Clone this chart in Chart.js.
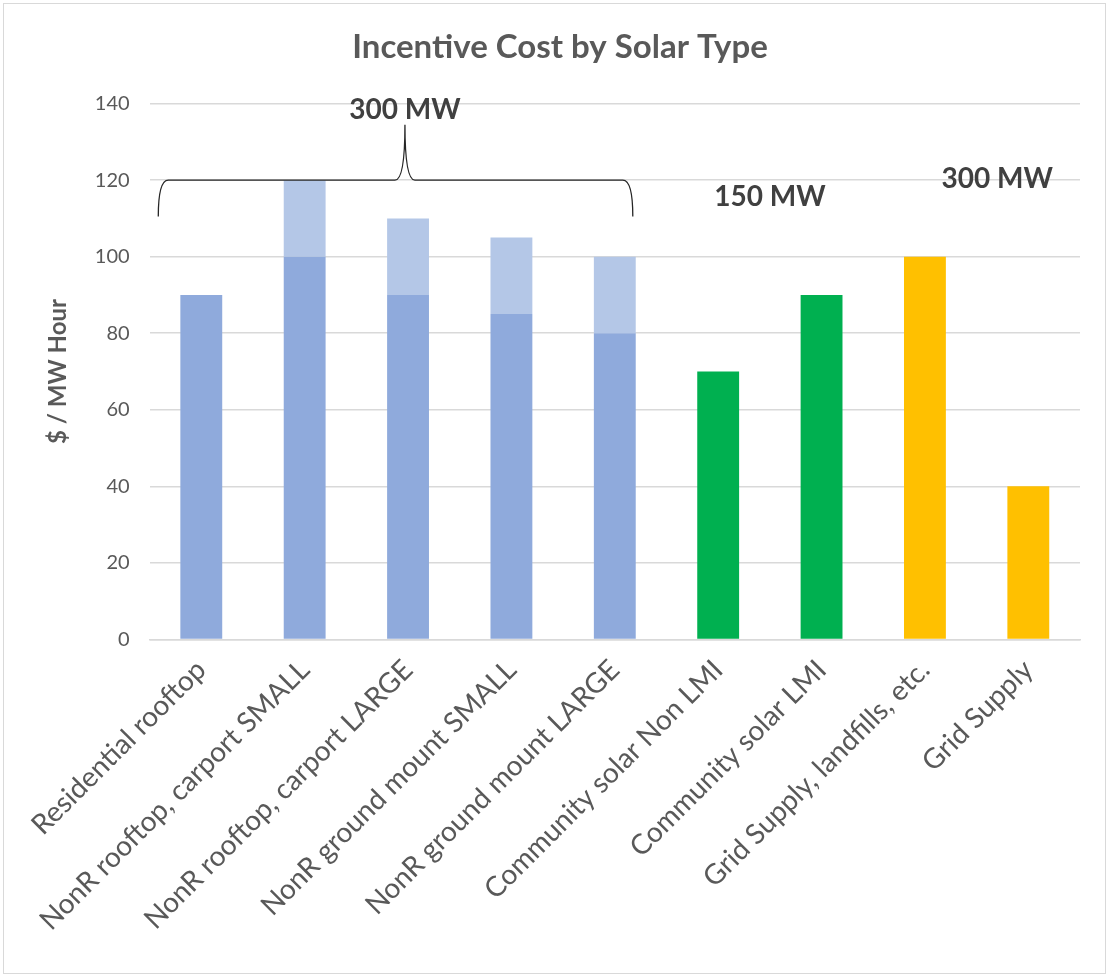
<!DOCTYPE html>
<html>
<head>
<meta charset="utf-8">
<script src="https://cdn.jsdelivr.net/npm/chart.js@4/dist/chart.umd.min.js"></script>
<style>
  html, body { margin: 0; padding: 0; background: #fff; }
  #wrap { position: absolute; left: 3px; top: 3px; width: 1101px; height: 969px; border: 1px solid #d9d9d9; }
</style>
</head>
<body>
<div id="wrap"><canvas id="solarChart"></canvas></div>
<script>
// Datos del gráfico
const categories = [
  'Residential rooftop',
  'NonR rooftop, carport SMALL',
  'NonR rooftop, carport LARGE',
  'NonR ground mount SMALL',
  'NonR ground mount LARGE',
  'Community solar Non LMI',
  'Community solar LMI',
  'Grid Supply, landfills, etc.',
  'Grid Supply'
];
const baseCost = [90, 100, 90, 85, 80, 70, 90, 100, 40];
const extraCost = [0, 20, 20, 20, 20, 0, 0, 0, 0];
const baseColors = ['#8FAADC', '#8FAADC', '#8FAADC', '#8FAADC', '#8FAADC', '#00B050', '#00B050', '#FFC000', '#FFC000'];
const extraColor = '#B4C7E7';
const yTicks = [0, 20, 40, 60, 80, 100, 120, 140];

// Anotaciones de capacidad: [texto, índice de categoría (centro), valor y]
const capacityNotes = [
  ['300 MW', 1.97, 138.4],
  ['150 MW', 5.5, 115.5],
  ['300 MW', 7.7, 120.4]
];
// Llave sobre las primeras cinco barras: [desde, hasta, pico, valor bajo, valor medio, valor pico]
const braceSpan = [0, 4, 1.97, 110.5, 120, 134.5];

const bracePlugin = {
  id: 'brace',
  afterDatasetsDraw(chart) {
    const { ctx, scales: { x, y } } = chart;
    const x0 = x.getPixelForValue(braceSpan[0]) - 43;
    const x1 = x.getPixelForValue(braceSpan[1]) + 18;
    const xm = x.getPixelForValue(braceSpan[2]);
    const yLow = y.getPixelForValue(braceSpan[3]);
    const yMid = y.getPixelForValue(braceSpan[4]);
    const yTop = y.getPixelForValue(braceSpan[5]);
    ctx.save();
    ctx.strokeStyle = '#262626';
    ctx.lineWidth = 1.3;
    ctx.beginPath();
    ctx.moveTo(x0, yLow);
    ctx.quadraticCurveTo(x0, yMid, x0 + 10, yMid);
    ctx.lineTo(xm - 10, yMid);
    ctx.quadraticCurveTo(xm, yMid, xm, yTop);
    ctx.quadraticCurveTo(xm, yMid, xm + 10, yMid);
    ctx.lineTo(x1 - 10, yMid);
    ctx.quadraticCurveTo(x1, yMid, x1, yLow);
    ctx.stroke();

    ctx.fillStyle = '#404040';
    ctx.font = 'bold 28px Lato, "Open Sans", sans-serif';
    ctx.textAlign = 'center';
    ctx.textBaseline = 'middle';
    capacityNotes.forEach(([txt, idx, val]) => {
      ctx.fillText(txt, x.getPixelForValue(idx), y.getPixelForValue(val));
    });
    ctx.restore();
  }
};

Chart.defaults.font.family = 'Lato, "Open Sans", sans-serif';
Chart.defaults.color = '#595959';

const ctx = document.getElementById('solarChart').getContext('2d');
new Chart(ctx, {
  type: 'bar',
  data: {
    labels: categories,
    datasets: [{
      label: 'Base',
      data: baseCost,
      backgroundColor: baseColors,
      stack: 'cost',
      categoryPercentage: 1,
      barPercentage: 0.405
    }, {
      label: 'Adicional',
      data: extraCost,
      backgroundColor: extraColor,
      stack: 'cost',
      categoryPercentage: 1,
      barPercentage: 0.405
    }]
  },
  options: {
    responsive: true,
    maintainAspectRatio: false,
    animation: false,
    layout: { padding: { left: 36, right: 25, top: 0, bottom: 30 } },
    plugins: {
      legend: { display: false },
      tooltip: { enabled: false },
      title: {
        display: true,
        text: 'Incentive Cost by Solar Type',
        color: '#595959',
        font: { size: 33, weight: 'bold' },
        padding: { top: 24, bottom: 36 }
      }
    },
    scales: {
      x: {
        stacked: true,
        grid: { display: false },
        border: { color: '#D9D9D9', width: 1.5 },
        ticks: {
          minRotation: 45,
          maxRotation: 45,
          autoSkip: false,
          color: '#595959',
          font: { size: 28 },
          padding: 6
        }
      },
      y: {
        stacked: true,
        min: 0,
        max: 140,
        afterBuildTicks(scale) { scale.ticks = yTicks.map(v => ({ value: v })); },
        grid: { color: '#D9D9D9', lineWidth: 1.5, drawTicks: false },
        border: { display: false },
        ticks: { color: '#595959', font: { size: 20 }, padding: 20 },
        title: {
          display: true,
          text: '$ / MW Hour',
          color: '#595959',
          font: { size: 24, weight: 'bold' },
          padding: { bottom: 2 }
        }
      }
    }
  },
  plugins: [bracePlugin]
});
</script>
</body>
</html>
